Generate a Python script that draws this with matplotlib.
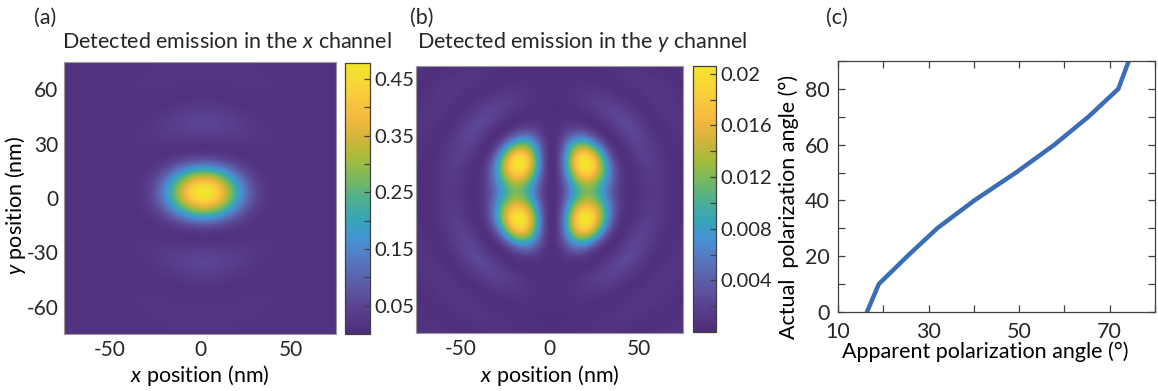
import numpy as np
import matplotlib
matplotlib.use('Agg')
import matplotlib.pyplot as plt
from matplotlib.colors import LinearSegmentedColormap
from matplotlib.ticker import FixedLocator, NullFormatter, FormatStrFormatter

plt.rcParams['font.family'] = ['Lato', 'DejaVu Sans']
plt.rcParams['mathtext.fontset'] = 'custom'
plt.rcParams['mathtext.rm'] = 'Lato'
plt.rcParams['mathtext.it'] = 'Lato:italic'
plt.rcParams['axes.unicode_minus'] = False
TXT = '#262626'
plt.rcParams['text.color'] = TXT
plt.rcParams['xtick.color'] = TXT
plt.rcParams['ytick.color'] = TXT

# ---- panel (c): apparent vs. actual polarization angle (deg) ----
actual_angle = [0, 10, 20, 30, 40, 50, 60, 70, 80, 90]
apparent_angle = [16.4, 19.0, 25.3, 31.9, 40.1, 49.3, 57.8, 65.3, 71.9, 74.2]

# ---- emission maps: scan window and psf model parameters ----
span_nm = 75.0
n_grid = 301

xch_center = (2.0, 3.0)      # nm
xch_k = 0.12                 # 1/nm
xch_mix = 1.0                # weight of the cos(2phi) term
xch_peak = 0.465
xch_floor = 0.015
xch_clim = (0.0, 0.478)
xch_ticks = [0.05, 0.15, 0.25, 0.35, 0.45]
xch_minor = [0.1, 0.2, 0.3, 0.4]

ych_center = (1.5, 4.5)
ych_k_quad = 0.14            # radial scale of the sin(2phi) term
ych_k_side = 0.115           # radial scale of the cos(phi) term
ych_side = 0.77              # weight of the cos(phi) term
ych_peak = 0.0203
ych_floor = 0.0004
ych_clim = (0.0, 0.0206)
ych_ticks = [0.004, 0.008, 0.012, 0.016, 0.02]
ych_minor = [0.002, 0.006, 0.010, 0.014, 0.018]

# parula-like colour scale
cmap_pos = [0.0, 0.1, 0.18, 0.27, 0.35, 0.42, 0.5, 0.58, 0.65, 0.72, 0.8, 0.9, 1.0]
cmap_hex = ['#4e2c78', '#5a4291', '#5c5ba5', '#5876bf', '#4593d2', '#37a5b8',
            '#4fb08e', '#7db95a', '#a8bb3a', '#d2b43a', '#f5b840', '#f9d03a', '#f2e629']
parula = LinearSegmentedColormap.from_list('parula_like', list(zip(cmap_pos, cmap_hex)))


def bessel_j(n, u):
    """J_n(u) from the integral form, tabulated in 1-D then interpolated."""
    tab = np.linspace(0, u.max() + 1e-6, 4000)
    tau = np.linspace(0, np.pi, 600)
    vals = np.trapezoid(np.cos(n * tau[None, :] - tab[:, None] * np.sin(tau)[None, :]),
                        tau, axis=1) / np.pi
    return np.interp(u, tab, vals)


def safe_div(a, u, lim):
    out = np.empty_like(u)
    small = u < 1e-6
    out[~small] = a[~small] / u[~small]
    out[small] = lim
    return out


ax_lin = np.linspace(-span_nm, span_nm, n_grid)
X, Y = np.meshgrid(ax_lin, ax_lin)

# x channel: focused spot, elongated along x with side lobes along y
dx, dy = X - xch_center[0], Y - xch_center[1]
u = xch_k * np.hypot(dx, dy)
phi = np.arctan2(dy, dx)
a0 = safe_div(2 * bessel_j(1, u), u, 1.0)
a2 = safe_div(2 * bessel_j(3, u), u, 0.0)
ix = (a0 + xch_mix * a2 * np.cos(2 * phi)) ** 2
ix = xch_floor + xch_peak * ix / ix.max()

# y channel: four-fold term plus a dipole-like term, zero along x = 0
dx, dy = X - ych_center[0], Y - ych_center[1]
r = np.hypot(dx, dy)
phi = np.arctan2(dy, dx)
ua, ub = ych_k_quad * r, ych_k_side * r
ra = safe_div(bessel_j(3, ua), ua, 0.0)
rb = safe_div(bessel_j(2, ub), ub, 0.0)
ra, rb = ra / np.abs(ra).max(), rb / np.abs(rb).max()
iy = ra ** 2 * np.sin(2 * phi) ** 2 + ych_side * rb ** 2 * np.cos(phi) ** 2
iy = ych_floor + ych_peak * iy / iy.max()

fig = plt.figure(figsize=(11.58, 3.91), dpi=100)
W, H = 1158.0, 391.0
FS = 15.5


def px_axes(l, t, r, b):
    return fig.add_axes([l / W, 1 - b / H, (r - l) / W, (b - t) / H])


def style_map(ax):
    ax.tick_params(length=0, labelsize=15, pad=4)
    for s in ax.spines.values():
        s.set_color('#9a9a9a')
        s.set_linewidth(0.8)


def style_cbar(cb, ticks, minor):
    cax = cb.ax
    cb.set_ticks(ticks)
    cax.yaxis.set_major_formatter(FormatStrFormatter('%g'))
    cax.yaxis.set_minor_locator(FixedLocator(minor))
    cax.yaxis.set_minor_formatter(NullFormatter())
    cax.tick_params(which='both', direction='in', length=4, width=0.9,
                    color='#404040', labelsize=14.5, pad=3)
    cb.outline.set_edgecolor('#404040')
    cb.outline.set_linewidth(0.9)


ext = [-span_nm, span_nm, -span_nm, span_nm]

# (a)
ax_a = px_axes(64, 62, 336, 334)
im_a = ax_a.imshow(ix, extent=ext, origin='lower', cmap=parula,
                   vmin=xch_clim[0], vmax=xch_clim[1], interpolation='bilinear',
                   aspect='auto')
ax_a.set_xticks([-50, 0, 50])
ax_a.set_yticks([-60, -30, 0, 30, 60])
ax_a.set_xlabel('$x$ position (nm)', fontsize=FS, va='center')
ax_a.set_ylabel('$y$ position (nm)', fontsize=FS, va='center')
ax_a.xaxis.set_label_coords(0.5, (334 - 376) / 272)
ax_a.yaxis.set_label_coords((16 - 64) / 272, (334 - 205) / 272)
style_map(ax_a)
cax_a = px_axes(345, 63, 370, 334)
cb_a = fig.colorbar(im_a, cax=cax_a)
style_cbar(cb_a, xch_ticks, xch_minor)

# (b)
ax_b = px_axes(416, 66, 683, 333)
im_b = ax_b.imshow(iy, extent=ext, origin='lower', cmap=parula,
                   vmin=ych_clim[0], vmax=ych_clim[1], interpolation='bilinear',
                   aspect='auto')
ax_b.set_xticks([-50, 0, 50])
ax_b.set_yticks([])
ax_b.set_xlabel('$x$ position (nm)', fontsize=FS, va='center')
ax_b.xaxis.set_label_coords(0.5, (333 - 376) / 267)
style_map(ax_b)
cax_b = px_axes(693, 66, 716, 332)
cb_b = fig.colorbar(im_b, cax=cax_b)
style_cbar(cb_b, ych_ticks, ych_minor)

# (c)
ax_c = px_axes(838, 61, 1155, 312)
ax_c.plot(apparent_angle, actual_angle, color='#3a6db6', lw=3.2,
          solid_joinstyle='miter')
ax_c.set_xlim(10, 80)
ax_c.set_ylim(0, 90)
ax_c.xaxis.set_major_locator(FixedLocator([10, 30, 50, 70]))
ax_c.xaxis.set_minor_locator(FixedLocator([20, 40, 60, 80]))
ax_c.yaxis.set_major_locator(FixedLocator([0, 20, 40, 60, 80]))
ax_c.yaxis.set_minor_locator(FixedLocator([10, 30, 50, 70, 90]))
ax_c.tick_params(which='both', direction='in', top=True, right=True,
                 length=5, width=0.9, color='#404040', labelsize=FS)
ax_c.tick_params(axis='x', pad=7)
ax_c.tick_params(axis='y', pad=6)
for s in ax_c.spines.values():
    s.set_color('#404040')
    s.set_linewidth(0.9)
ax_c.set_xlabel('Apparent polarization angle (°)', fontsize=FS, va='center')
ax_c.set_ylabel('Actual  polarization angle (°)', fontsize=FS, va='center')
ax_c.xaxis.set_label_coords((985 - 838) / 317, (312 - 352) / 251)
ax_c.yaxis.set_label_coords((789 - 838) / 317, (312 - 207) / 251)

# titles and panel letters
fig.text(227 / W, 1 - 42 / H, 'Detected emission in the $x$ channel',
         fontsize=15.5, ha='center', va='center')
fig.text(582 / W, 1 - 42 / H, 'Detected emission in the $y$ channel',
         fontsize=15.5, ha='center', va='center')
for lab, xp in [('(a)', 45), ('(b)', 422), ('(c)', 837)]:
    fig.text(xp / W, 1 - 18 / H, lab, fontsize=15.5, ha='center', va='center')

fig.savefig('out.png', dpi=100)
